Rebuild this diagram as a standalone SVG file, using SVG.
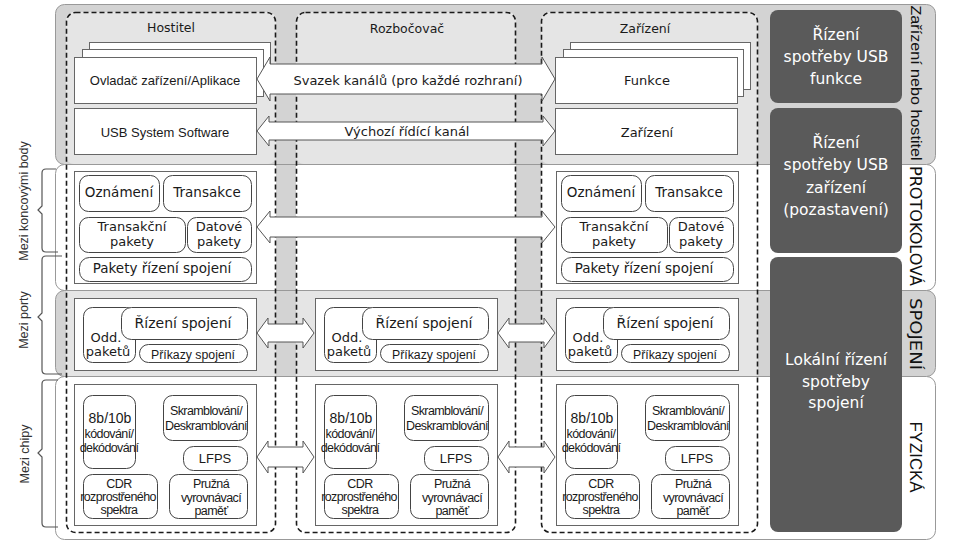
<svg xmlns="http://www.w3.org/2000/svg" width="956" height="552" viewBox="0 0 956 552">
<style>
.bg{fill:#d3d3d3;stroke:#999;stroke-width:1}
.bw{fill:#fff;stroke:#999;stroke-width:1}
.col{fill:#e5e5e5}
.strip{fill:#d3d3d3}
.dash{fill:none;stroke:#1a1a1a;stroke-width:1.6;stroke-dasharray:5 3}
.box{fill:#fff;stroke:#666;stroke-width:1}
.rb{fill:#fff;stroke:#444;stroke-width:1}
.dark{fill:#5a5a5a}
.arr{fill:#fff;stroke:#555;stroke-width:1}
.brace{fill:none;stroke:#555;stroke-width:1.2}
text{fill:#1a1a1a}
.dj{font-family:"DejaVu Sans",sans-serif;text-anchor:middle}
.ar{font-family:"Liberation Sans",Arial,sans-serif;text-anchor:middle}
.t12{font-size:12.5px}
.t13{font-size:13px}
.t135{font-size:13.5px}
.t14{font-size:14px}
.ph{font-family:"Liberation Sans",Arial,sans-serif;text-anchor:middle;font-size:12.5px;letter-spacing:-0.6px}
.wt{font-family:"DejaVu Sans",sans-serif;text-anchor:middle;font-size:15.5px;fill:#fff}
.lab{font-family:"Liberation Sans",Arial,sans-serif;font-size:12.5px;fill:#333;text-anchor:middle}
.rl{font-family:"DejaVu Sans",sans-serif;font-size:16px;fill:#111;text-anchor:middle}
</style>

<g id="bands">
  <rect class="bg" x="55.5" y="4.5" width="880" height="160" rx="9"/>
  <rect class="col" x="66" y="12" width="210" height="152" rx="8"/>
  <rect class="col" x="296" y="12" width="220" height="152" rx="8"/>
  <rect class="col" x="541" y="12" width="217" height="152" rx="8"/>
  <rect class="bw" x="55.5" y="164.5" width="880" height="126" rx="9"/>
  <rect class="strip" x="276" y="165" width="20" height="125"/>
  <rect class="strip" x="516" y="165" width="25" height="125"/>
  <rect class="bg" x="55.5" y="290.5" width="880" height="86" rx="9"/>
  <rect class="col" x="66" y="291" width="210" height="85"/>
  <rect class="col" x="296" y="291" width="220" height="85"/>
  <rect class="col" x="541" y="291" width="217" height="85"/>
  <rect class="bw" x="55.5" y="376.5" width="880" height="163" rx="9"/>
</g>

<g id="columns">
  <rect class="dash" x="66.5" y="12.5" width="209" height="520" rx="9"/>
  <rect class="dash" x="296.5" y="12.5" width="219" height="520" rx="9"/>
  <rect class="dash" x="541.5" y="12.5" width="216" height="520" rx="9"/>
  <text class="dj t12" x="171" y="32">Hostitel</text>
  <text class="dj t12" x="407" y="33">Rozbočovač</text>
  <text class="dj t12" x="645" y="33">Zařízení</text>
</g>

<g id="host-app">
  <rect class="box" x="89.5" y="42.5" width="181" height="47"/>
  <rect class="box" x="82.5" y="49.5" width="181" height="47"/>
  <rect class="box" x="74.5" y="57.5" width="182" height="46"/>
  <text class="ar t13" x="165" y="85">Ovladač zařízení/Aplikace</text>
</g>
<g id="host-sw">
  <rect class="box" x="74.5" y="108.5" width="182" height="46"/>
  <text class="ar t13" x="165" y="137">USB System Software</text>
</g>
<g id="dev-func">
  <rect class="box" x="570.5" y="42.5" width="180" height="47"/>
  <rect class="box" x="563.5" y="49.5" width="180" height="47"/>
  <rect class="box" x="555.5" y="57.5" width="182" height="46"/>
  <text class="dj t13" x="647" y="85">Funkce</text>
</g>
<g id="dev-dev">
  <rect class="box" x="555.5" y="108.5" width="182" height="46"/>
  <text class="dj t13" x="647" y="137">Zařízení</text>
</g>

<g id="host-protocol">
  <rect class="box" x="74.5" y="171.5" width="182" height="112"/>
  <rect class="rb" x="79.5" y="175.5" width="80" height="36" rx="9"/>
  <text class="dj t135" x="119" y="197">Oznámení</text>
  <rect class="rb" x="163.5" y="175.5" width="88" height="36" rx="9"/>
  <text class="dj t135" x="207" y="197">Transakce</text>
  <rect class="rb" x="79.5" y="217.5" width="106" height="35" rx="9"/>
  <text class="dj t13" x="132" y="231">Transakční</text>
  <text class="dj t13" x="132" y="246">pakety</text>
  <rect class="rb" x="187.5" y="217.5" width="64" height="35" rx="9"/>
  <text class="dj t13" x="219" y="231">Datové</text>
  <text class="dj t13" x="219" y="246">pakety</text>
  <rect class="rb" x="79.5" y="257.5" width="172" height="24" rx="10"/>
  <text class="dj t135" x="162" y="273">Pakety řízení spojení</text>
</g>
<g id="dev-protocol" transform="translate(482,0)">
  <rect class="box" x="74.5" y="171.5" width="182" height="112"/>
  <rect class="rb" x="79.5" y="175.5" width="80" height="36" rx="9"/>
  <text class="dj t135" x="119" y="197">Oznámení</text>
  <rect class="rb" x="163.5" y="175.5" width="88" height="36" rx="9"/>
  <text class="dj t135" x="207" y="197">Transakce</text>
  <rect class="rb" x="79.5" y="217.5" width="106" height="35" rx="9"/>
  <text class="dj t13" x="132" y="231">Transakční</text>
  <text class="dj t13" x="132" y="246">pakety</text>
  <rect class="rb" x="187.5" y="217.5" width="64" height="35" rx="9"/>
  <text class="dj t13" x="219" y="231">Datové</text>
  <text class="dj t13" x="219" y="246">pakety</text>
  <rect class="rb" x="79.5" y="257.5" width="172" height="24" rx="10"/>
  <text class="dj t135" x="162" y="273">Pakety řízení spojení</text>
</g>

<g id="host-link">
  <rect class="box" x="74.5" y="298.5" width="182" height="72"/>
  <rect class="rb" x="83.5" y="307.5" width="52" height="55" rx="9"/>
  <text class="dj t13" x="106" y="342">Odd.</text>
  <text class="dj t13" x="108" y="356">paketů</text>
  <rect class="rb" x="121.5" y="307.5" width="126" height="32" rx="10"/>
  <text class="dj t14" x="183" y="328">Řízení spojení</text>
  <rect class="rb" x="139.5" y="344.5" width="108" height="18" rx="9"/>
  <text class="ar" style="font-size:12.3px" x="193" y="359">Příkazy spojení</text>
</g>
<g id="hub-link" transform="translate(241,0)">
  <rect class="box" x="74.5" y="298.5" width="182" height="72"/>
  <rect class="rb" x="83.5" y="307.5" width="52" height="55" rx="9"/>
  <text class="dj t13" x="106" y="342">Odd.</text>
  <text class="dj t13" x="108" y="356">paketů</text>
  <rect class="rb" x="121.5" y="307.5" width="126" height="32" rx="10"/>
  <text class="dj t14" x="183" y="328">Řízení spojení</text>
  <rect class="rb" x="139.5" y="344.5" width="108" height="18" rx="9"/>
  <text class="ar" style="font-size:12.3px" x="193" y="359">Příkazy spojení</text>
</g>
<g id="dev-link" transform="translate(482,0)">
  <rect class="box" x="74.5" y="298.5" width="182" height="72"/>
  <rect class="rb" x="83.5" y="307.5" width="52" height="55" rx="9"/>
  <text class="dj t13" x="106" y="342">Odd.</text>
  <text class="dj t13" x="108" y="356">paketů</text>
  <rect class="rb" x="121.5" y="307.5" width="126" height="32" rx="10"/>
  <text class="dj t14" x="183" y="328">Řízení spojení</text>
  <rect class="rb" x="139.5" y="344.5" width="108" height="18" rx="9"/>
  <text class="ar" style="font-size:12.3px" x="193" y="359">Příkazy spojení</text>
</g>

<g id="host-phys">
  <rect class="box" x="74.5" y="384.5" width="182" height="141"/>
  <rect class="rb" x="83.5" y="395.5" width="52" height="73" rx="9"/>
  <text class="ar" style="font-size:14px" x="110" y="423">8b/10b</text>
  <text class="ph" x="109" y="438">kódování/</text>
  <text class="ph" x="109" y="452">dekódování</text>
  <rect class="rb" x="163.5" y="395.5" width="84" height="45" rx="9"/>
  <text class="ph" x="206" y="415">Skramblování/</text>
  <text class="ph" x="206" y="430">Deskramblování</text>
  <rect class="rb" x="183.5" y="446.5" width="64" height="24" rx="10"/>
  <text class="ar t13" x="215" y="463">LFPS</text>
  <rect class="rb" x="83.5" y="474.5" width="74" height="44" rx="9"/>
  <text class="ph" x="119" y="488">CDR</text>
  <text class="ph" x="118" y="501">rozprostřeného</text>
  <text class="ph" x="119" y="514">spektra</text>
  <rect class="rb" x="169.5" y="474.5" width="78" height="44" rx="9"/>
  <text class="ph" x="211" y="488">Pružná</text>
  <text class="ph" x="211" y="502">vyrovnávací</text>
  <text class="ph" x="211" y="515">paměť</text>
</g>
<g id="hub-phys" transform="translate(241,0)">
  <rect class="box" x="74.5" y="384.5" width="182" height="141"/>
  <rect class="rb" x="83.5" y="395.5" width="52" height="73" rx="9"/>
  <text class="ar" style="font-size:14px" x="110" y="423">8b/10b</text>
  <text class="ph" x="109" y="438">kódování/</text>
  <text class="ph" x="109" y="452">dekódování</text>
  <rect class="rb" x="163.5" y="395.5" width="84" height="45" rx="9"/>
  <text class="ph" x="206" y="415">Skramblování/</text>
  <text class="ph" x="206" y="430">Deskramblování</text>
  <rect class="rb" x="183.5" y="446.5" width="64" height="24" rx="10"/>
  <text class="ar t13" x="215" y="463">LFPS</text>
  <rect class="rb" x="83.5" y="474.5" width="74" height="44" rx="9"/>
  <text class="ph" x="119" y="488">CDR</text>
  <text class="ph" x="118" y="501">rozprostřeného</text>
  <text class="ph" x="119" y="514">spektra</text>
  <rect class="rb" x="169.5" y="474.5" width="78" height="44" rx="9"/>
  <text class="ph" x="211" y="488">Pružná</text>
  <text class="ph" x="211" y="502">vyrovnávací</text>
  <text class="ph" x="211" y="515">paměť</text>
</g>
<g id="dev-phys" transform="translate(482,0)">
  <rect class="box" x="74.5" y="384.5" width="182" height="141"/>
  <rect class="rb" x="83.5" y="395.5" width="52" height="73" rx="9"/>
  <text class="ar" style="font-size:14px" x="110" y="423">8b/10b</text>
  <text class="ph" x="109" y="438">kódování/</text>
  <text class="ph" x="109" y="452">dekódování</text>
  <rect class="rb" x="163.5" y="395.5" width="84" height="45" rx="9"/>
  <text class="ph" x="206" y="415">Skramblování/</text>
  <text class="ph" x="206" y="430">Deskramblování</text>
  <rect class="rb" x="183.5" y="446.5" width="64" height="24" rx="10"/>
  <text class="ar t13" x="215" y="463">LFPS</text>
  <rect class="rb" x="83.5" y="474.5" width="74" height="44" rx="9"/>
  <text class="ph" x="119" y="488">CDR</text>
  <text class="ph" x="118" y="501">rozprostřeného</text>
  <text class="ph" x="119" y="514">spektra</text>
  <rect class="rb" x="169.5" y="474.5" width="78" height="44" rx="9"/>
  <text class="ph" x="211" y="488">Pružná</text>
  <text class="ph" x="211" y="502">vyrovnávací</text>
  <text class="ph" x="211" y="515">paměť</text>
</g>

<g id="connectors">
  <polygon class="arr" points="257,79 270,57 270,64 542,64 542,57 555,79 542,101 542,94 270,94 270,101"/>
  <text class="dj t13" x="408" y="85">Svazek kanálů (pro každé rozhraní)</text>
  <polygon class="arr" points="257,131 269,116 269,122 543,122 543,116 555,131 543,146 543,140 269,140 269,146"/>
  <text class="dj t13" x="407" y="136">Výchozí řídící kanál</text>
  <polygon class="arr" points="257,227 270,211 270,217 542,217 542,211 555,227 542,243 542,237 270,237 270,243"/>
  <polygon class="arr" points="257,333 268,318 268,324 303,324 303,318 314,333 303,348 303,342 268,342 268,348"/>
  <polygon class="arr" points="498,333 509,318 509,324 544,324 544,318 555,333 544,348 544,342 509,342 509,348"/>
  <polygon class="arr" points="257,457 268,441 268,447 303,447 303,441 314,457 303,473 303,467 268,467 268,473"/>
  <polygon class="arr" points="498,457 509,441 509,447 544,447 544,441 555,457 544,473 544,467 509,467 509,473"/>
</g>

<g id="pm-function">
  <rect class="dark" x="770" y="10" width="132" height="93" rx="8"/>
  <text class="wt" x="836" y="40">Řízení</text>
  <text class="wt" x="836" y="62">spotřeby USB</text>
  <text class="wt" x="836" y="84">funkce</text>
</g>
<g id="pm-device">
  <rect class="dark" x="770" y="108" width="132" height="145" rx="8"/>
  <text class="wt" x="836" y="148">Řízení</text>
  <text class="wt" x="836" y="170">spotřeby USB</text>
  <text class="wt" x="836" y="193">zařízení</text>
  <text class="wt" x="836" y="215">(pozastavení)</text>
</g>
<g id="pm-link">
  <rect class="dark" x="770" y="257" width="132" height="275" rx="8"/>
  <text class="wt" x="836" y="365">Lokální řízení</text>
  <text class="wt" x="836" y="387">spotřeby</text>
  <text class="wt" x="836" y="408">spojení</text>
</g>

<g id="layer-labels">
  <text class="rl" style="font-family:'Liberation Sans',Arial,sans-serif;font-size:15px" transform="translate(916,83) rotate(90)" dy="0.35em" textLength="155" lengthAdjust="spacingAndGlyphs">Zařízení nebo hostitel</text>
  <text class="rl" transform="translate(916,226) rotate(90)" dy="0.35em" textLength="120" lengthAdjust="spacingAndGlyphs">PROTOKOLOVÁ</text>
  <text class="rl" transform="translate(916,334) rotate(90)" dy="0.35em" textLength="72" lengthAdjust="spacingAndGlyphs">SPOJENÍ</text>
  <text class="rl" style="font-family:'Liberation Sans',Arial,sans-serif;font-size:17px" transform="translate(916,457) rotate(90)" dy="0.35em" textLength="71" lengthAdjust="spacingAndGlyphs">FYZICKÁ</text>
</g>

<g id="scope-labels">
  <path class="brace" d="M56,169 L46,169 Q42,169 42,173 L42,206 L38,210 L42,214 L42,248 Q42,252 46,252 L58,252"/>
  <text class="lab" transform="translate(24,201) rotate(-90)" dy="0.35em">Mezi koncovými body</text>
  <path class="brace" d="M62,256 L46,256 Q42,256 42,260 L42,313 L38,317 L42,321 L42,370 Q42,374 46,374 L62,374"/>
  <text class="lab" transform="translate(24,320) rotate(-90)" dy="0.35em">Mezi porty</text>
  <path class="brace" d="M58,380 L46,380 Q42,380 42,384 L42,449 L38,453 L42,457 L42,523 Q42,527 46,527 L58,527"/>
  <text class="lab" transform="translate(25,454) rotate(-90)" dy="0.35em">Mezi chipy</text>
</g>
</svg>
